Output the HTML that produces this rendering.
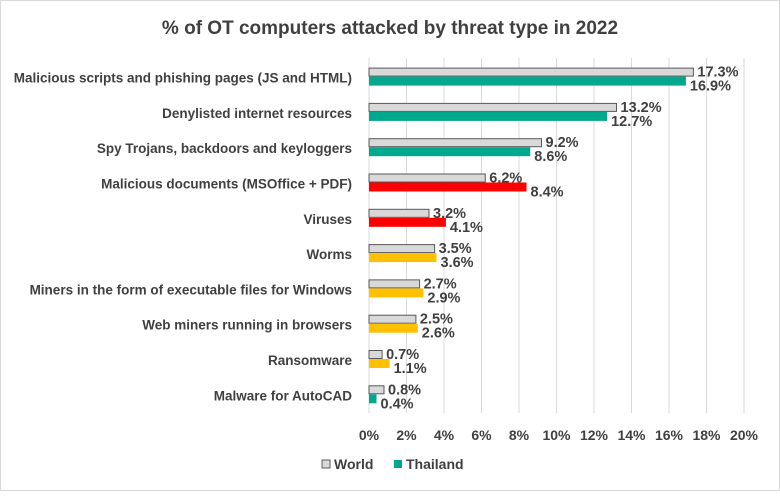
<!DOCTYPE html>
<html><head><style>
body{margin:0;background:#fff}
svg text{font-family:"Liberation Sans",Arial,sans-serif;fill:#404040;font-weight:bold}
</style></head><body>
<svg width="780" height="491" xmlns="http://www.w3.org/2000/svg">
<rect x="0.5" y="0.5" width="779" height="490" fill="#fff" stroke="#d9d9d9"/>
<text x="390" y="34" text-anchor="middle" font-size="19">% of OT computers attacked by threat type in 2022</text>
<g stroke="#d9d9d9" stroke-width="1">
<line x1="369" y1="58" x2="369" y2="413"/><line x1="406.5" y1="58" x2="406.5" y2="413"/><line x1="444" y1="58" x2="444" y2="413"/><line x1="481.5" y1="58" x2="481.5" y2="413"/><line x1="519" y1="58" x2="519" y2="413"/><line x1="556.5" y1="58" x2="556.5" y2="413"/><line x1="594" y1="58" x2="594" y2="413"/><line x1="631.5" y1="58" x2="631.5" y2="413"/><line x1="669" y1="58" x2="669" y2="413"/><line x1="706.5" y1="58" x2="706.5" y2="413"/><line x1="744" y1="58" x2="744" y2="413"/>
</g>
<g font-size="14" text-anchor="middle">
<text x="369" y="440">0%</text><text x="406.5" y="440">2%</text><text x="444" y="440">4%</text><text x="481.5" y="440">6%</text><text x="519" y="440">8%</text><text x="556.5" y="440">10%</text><text x="594" y="440">12%</text><text x="631.5" y="440">14%</text><text x="669" y="440">16%</text><text x="706.5" y="440">18%</text><text x="744" y="440">20%</text>
</g>
<g font-size="13.5" text-anchor="end">
<text x="352" y="82.6">Malicious scripts and phishing pages (JS and HTML)</text>
<text x="352" y="117.9">Denylisted internet resources</text>
<text x="352" y="153.2">Spy Trojans, backdoors and keyloggers</text>
<text x="352" y="188.5">Malicious documents (MSOffice + PDF)</text>
<text x="352" y="223.8">Viruses</text>
<text x="352" y="259.1">Worms</text>
<text x="352" y="294.4">Miners in the form of executable files for Windows</text>
<text x="352" y="329.7">Web miners running in browsers</text>
<text x="352" y="365">Ransomware</text>
<text x="352" y="400.3">Malware for AutoCAD</text>
</g>
<g fill="#d9d9d9" stroke="#595959">
<rect x="369" y="68.1" width="324.4" height="8"/>
<rect x="369" y="103.4" width="247.5" height="8"/>
<rect x="369" y="138.7" width="172.5" height="8"/>
<rect x="369" y="174" width="116.25" height="8"/>
<rect x="369" y="209.3" width="60" height="8"/>
<rect x="369" y="244.6" width="65.6" height="8"/>
<rect x="369" y="279.9" width="50.6" height="8"/>
<rect x="369" y="315.2" width="46.9" height="8"/>
<rect x="369" y="350.5" width="13.1" height="8"/>
<rect x="369" y="385.8" width="15" height="8"/>
</g>
<rect x="369" y="76.6" width="316.9" height="9" fill="#00a88e"/>
<rect x="369" y="111.9" width="238.1" height="9" fill="#00a88e"/>
<rect x="369" y="147.2" width="161.25" height="9" fill="#00a88e"/>
<rect x="369" y="182.5" width="157.5" height="9" fill="#ff0000"/>
<rect x="369" y="217.8" width="76.9" height="9" fill="#ff0000"/>
<rect x="369" y="253.1" width="67.5" height="9" fill="#ffc000"/>
<rect x="369" y="288.4" width="54.4" height="9" fill="#ffc000"/>
<rect x="369" y="323.7" width="48.75" height="9" fill="#ffc000"/>
<rect x="369" y="359" width="20.6" height="9" fill="#ffc000"/>
<rect x="369" y="394.3" width="7.5" height="9" fill="#00a88e"/>
<g font-size="14.5">
<text x="697.4" y="76.6">17.3%</text><text x="689.9" y="90.6">16.9%</text>
<text x="620.5" y="111.9">13.2%</text><text x="611.1" y="125.9">12.7%</text>
<text x="545.5" y="147.2">9.2%</text><text x="534.25" y="161.2">8.6%</text>
<text x="489.25" y="182.5">6.2%</text><text x="530.5" y="196.5">8.4%</text>
<text x="433" y="217.8">3.2%</text><text x="449.9" y="231.8">4.1%</text>
<text x="438.6" y="253.1">3.5%</text><text x="440.5" y="267.1">3.6%</text>
<text x="423.6" y="288.4">2.7%</text><text x="427.4" y="302.4">2.9%</text>
<text x="419.9" y="323.7">2.5%</text><text x="421.75" y="337.7">2.6%</text>
<text x="386.1" y="359">0.7%</text><text x="393.6" y="373">1.1%</text>
<text x="388" y="394.3">0.8%</text><text x="380.5" y="408.3">0.4%</text>
</g>
<rect x="322" y="460" width="8" height="8" fill="#d9d9d9" stroke="#595959"/>
<text x="334" y="469" font-size="14">World</text>
<rect x="394" y="460" width="8" height="8" fill="#00a88e"/>
<text x="406" y="469" font-size="14">Thailand</text>
</svg>
</body></html>
